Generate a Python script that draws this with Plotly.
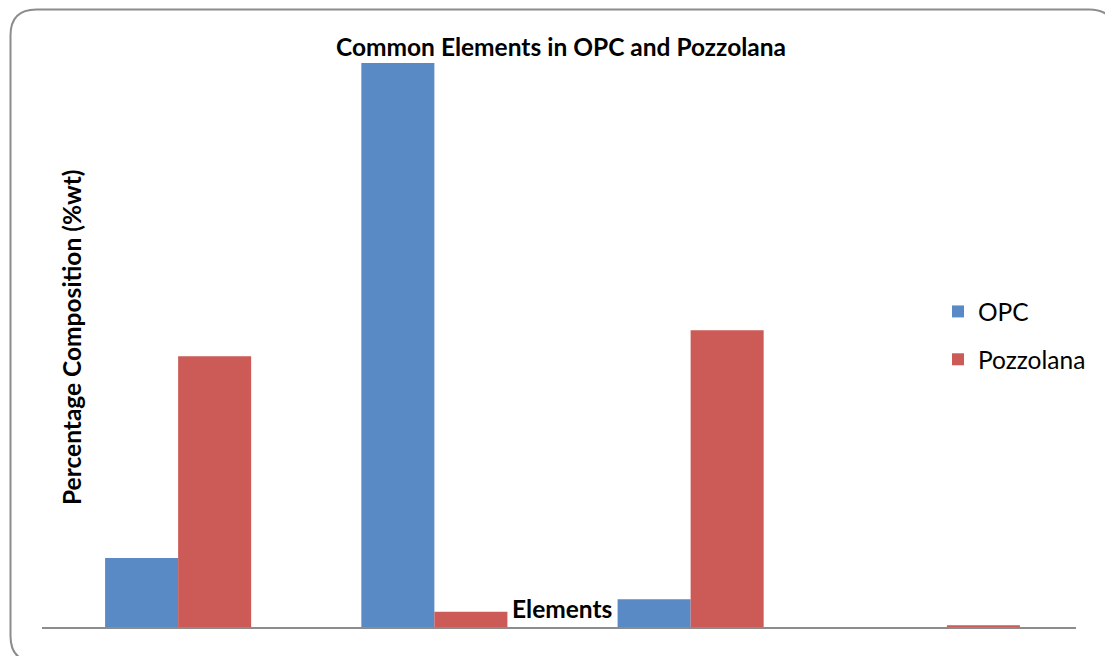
import plotly.graph_objects as go

categories = ["Element 1", "Element 2", "Element 3", "Element 4"]
opc = [7.8, 63.0, 3.2, 0.0]
pozzolana = [30.3, 1.8, 33.2, 0.3]

W, H = 1105, 656
L, R, T, B = 50, 30, 45, 28
pw, ph = W - L - R, H - T - B

def px(x):
    return (x - L) / pw

def py(y):
    return (H - B - y) / ph

FONT = "Lato"
FS = 24.5

fig = go.Figure()
fig.add_trace(go.Bar(x=categories, y=opc, name="OPC", marker=dict(color="#5A8AC6", line=dict(width=0)),
                     legendgroup="a"))
fig.add_trace(go.Bar(x=categories, y=pozzolana, name="Pozzolana", marker=dict(color="#CC5A56", line=dict(width=0)),
                     legendgroup="b"))

# rounded frame
x0, y0, x1, y1, r = 10.5, 9.5, 1115, 662, 26
path = (f"M {px(x0)},{py(y0 + r)} "
        f"Q {px(x0)},{py(y0)} {px(x0 + r)},{py(y0)} "
        f"L {px(x1 - r)},{py(y0)} "
        f"Q {px(x1)},{py(y0)} {px(x1)},{py(y0 + r)} "
        f"L {px(x1)},{py(y1 - r)} "
        f"Q {px(x1)},{py(y1)} {px(x1 - r)},{py(y1)} "
        f"L {px(x0 + r)},{py(y1)} "
        f"Q {px(x0)},{py(y1)} {px(x0)},{py(y1 - r)} Z")
fig.add_shape(type="path", path=path, xref="paper", yref="paper",
              line=dict(color="#8C8C8C", width=2), fillcolor="rgba(0,0,0,0)", layer="below")
# category axis baseline
fig.add_shape(type="line", x0=px(42), x1=px(1076), y0=0, y1=0, xref="paper", yref="paper",
              line=dict(color="#8C8C8C", width=2), layer="above")

fig.add_annotation(text="<b>Elements</b>", x=px(562), y=py(608), xref="paper", yref="paper",
                   showarrow=False, font=dict(family=FONT, size=FS, color="black"),
                   xanchor="center", yanchor="middle")
fig.add_annotation(text="<b>Percentage Composition (%wt)</b>", x=px(71), y=py(337), xref="paper", yref="paper",
                   showarrow=False, textangle=-90, font=dict(family=FONT, size=FS, color="black"),
                   xanchor="center", yanchor="middle")

fig.update_layout(
    width=W, height=H,
    margin=dict(l=L, r=R, t=T, b=B),
    paper_bgcolor="white", plot_bgcolor="white",
    title=dict(text="<b>Common Elements in OPC and Pozzolana</b>", x=561 / W, xanchor="center",
               y=1 - 47 / H, yanchor="middle", font=dict(family=FONT, size=FS, color="black")),
    barmode="group", bargap=0.43, bargroupgap=0,
    xaxis=dict(showticklabels=False, ticks="", showgrid=False, showline=False, zeroline=False),
    yaxis=dict(range=[0, 65], showticklabels=False, ticks="", showgrid=False, showline=False, zeroline=False),
    legend=dict(x=px(938), y=py(289), xanchor="left", yanchor="top", tracegroupgap=13,
                font=dict(family=FONT, size=FS, color="black"), bgcolor="rgba(0,0,0,0)"),
    showlegend=True,
)

fig.write_html("out.html", config={"displayModeBar": False},
               post_script="document.body.style.margin='0';document.body.style.padding='0';")
